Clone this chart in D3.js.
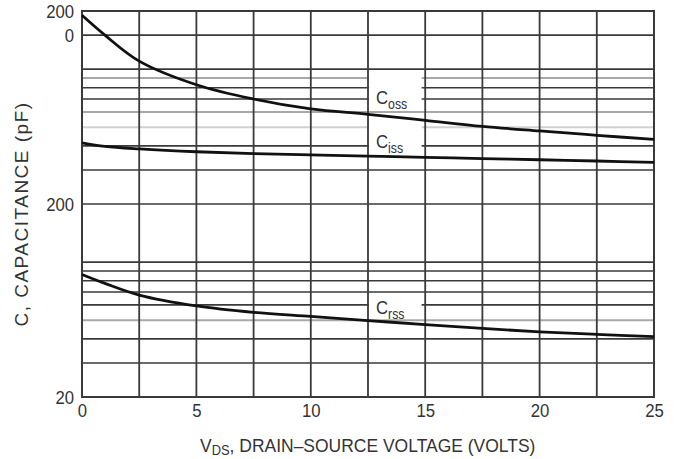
<!DOCTYPE html>
<html>
<head>
<meta charset="utf-8">
<script src="https://cdn.jsdelivr.net/npm/d3@7"></script>
<style>
  body { margin: 0; background: #fff; }
  text { font-family: "Liberation Sans Narrow", "Arial Narrow", "Liberation Sans", sans-serif; fill: #333; }
</style>
</head>
<body>
<script>
// Drain-source voltage (volts) where the curves were read
var vds = [0, 1, 2.5, 5, 7.5, 10, 12.5, 15, 17.5, 20, 22.5, 25];

// Capacitance values (pF)
var coss = [1900, 1500, 1100, 830, 700, 622, 583, 543, 505, 478, 454, 432];
var ciss = [415, 398, 386, 373, 365, 359, 354, 349, 344, 339, 334, 329];
var crss = [86.3, 77.6, 67.5, 59.3, 54.9, 52.3, 49.8, 47.4, 45.3, 43.5, 42.2, 41.1];

// Tick labels (as printed on the figure)
var xTicks = [0, 5, 10, 15, 20, 25];
var yTickValues = [2000, 1500, 200, 20];
var yTickText = ["200", "0", "200", "20"];

// Grid
var xGrid = [0, 2.5, 5, 7.5, 10, 12.5, 15, 17.5, 20, 22.5, 25];
var yGridDark = [30, 40, 60, 70, 80, 90, 100, 200, 300, 400, 700, 800, 1000, 1500];
var yGridGray = [50, 600, 900];
var yGridLight = [500];

// Curve labels: [main, subscript, vds, value of baseline, box top value, box bottom value]
var curveLabels = [
  ["C", "oss", 12.85, 660, 955, 613],
  ["C", "iss", 12.85, 390, 532, 368],
  ["C", "rss", 12.85, 54, 64.5, 50.7]
];

var width = 676;
var height = 459;
var margin = {top: 11, right: 22, bottom: 62, left: 82};
var narrow = 0.88;

var svg = d3.select("body")
  .append("svg")
  .attr("width", width)
  .attr("height", height);

var x = d3.scaleLinear()
  .domain([0, 25])
  .range([margin.left, width - margin.right]);

var y = d3.scaleLog()
  .domain([20, 2000])
  .range([height - margin.bottom, margin.top]);

// horizontal grid lines
function hLines(vals, color, w) {
  svg.append("g").selectAll("line")
    .data(vals)
    .enter()
    .append("line")
    .attr("x1", x(0))
    .attr("x2", x(25))
    .attr("y1", function(d) { return y(d); })
    .attr("y2", function(d) { return y(d); })
    .attr("stroke", color)
    .attr("stroke-width", w);
}
hLines(yGridLight, "#d0d0d0", 2);
hLines(yGridGray, "#a8a8a8", 2);
hLines(yGridDark, "#3a3a3a", 1.6);

// white boxes behind the curve labels
svg.append("g").selectAll("rect")
  .data(curveLabels)
  .enter()
  .append("rect")
  .attr("x", x(12.5) + 1)
  .attr("width", x(14.8) - x(12.5))
  .attr("y", function(d) { return y(d[4]); })
  .attr("height", function(d) { return y(d[5]) - y(d[4]); })
  .attr("fill", "#fff");

// vertical grid lines
svg.append("g").selectAll("line")
  .data(xGrid)
  .enter()
  .append("line")
  .attr("x1", function(d) { return x(d); })
  .attr("x2", function(d) { return x(d); })
  .attr("y1", y(20))
  .attr("y2", y(2000))
  .attr("stroke", "#3a3a3a")
  .attr("stroke-width", 1.8);

// frame
svg.append("rect")
  .attr("x", x(0))
  .attr("y", y(2000))
  .attr("width", x(25) - x(0))
  .attr("height", y(20) - y(2000))
  .attr("fill", "none")
  .attr("stroke", "#3a3a3a")
  .attr("stroke-width", 2);

// curves
var line = d3.line()
  .x(function(d) { return x(d[0]); })
  .y(function(d) { return y(d[1]); })
  .curve(d3.curveCatmullRom.alpha(0.5));

[coss, ciss, crss].forEach(function(series) {
  svg.append("path")
    .datum(vds.map(function(v, i) { return [v, series[i]]; }))
    .attr("d", line)
    .attr("fill", "none")
    .attr("stroke", "#111")
    .attr("stroke-width", 2.8);
});

// curve labels
curveLabels.forEach(function(d) {
  var t = svg.append("text")
    .attr("transform", "translate(" + x(d[2]) + "," + y(d[3]) + ") scale(" + narrow + ",1)")
    .attr("font-size", 19);
  t.append("tspan").text(d[0]);
  t.append("tspan").attr("dy", 5).attr("font-size", 14).text(d[1]);
});

// x axis labels
var xAxis = d3.axisBottom(x)
  .tickValues(xTicks)
  .tickSize(0)
  .tickPadding(7)
  .tickFormat(d3.format("d"));

var gx = svg.append("g")
  .attr("transform", "translate(0," + y(20) + ")")
  .call(xAxis);
gx.select(".domain").remove();
gx.selectAll("text")
  .attr("font-size", 19)
  .attr("fill", "#333")
  .attr("transform", "scale(" + narrow + ",1)")
  .style("font-family", null);

// y axis labels
var yAxis = d3.axisLeft(y)
  .tickValues(yTickValues)
  .tickSize(0)
  .tickPadding(9)
  .tickFormat(function(d, i) { return yTickText[i]; });

var gy = svg.append("g")
  .attr("transform", "translate(" + x(0) + ",0)")
  .call(yAxis);
gy.select(".domain").remove();
gy.selectAll("text")
  .attr("font-size", 19)
  .attr("fill", "#333")
  .attr("transform", "scale(" + narrow + ",1)")
  .style("font-family", null);

// axis titles
var xt = svg.append("text")
  .attr("transform", "translate(200,452) scale(0.92,1)")
  .attr("font-size", 19);
xt.append("tspan").text("V");
xt.append("tspan").attr("dy", 3).attr("font-size", 14).text("DS");
xt.append("tspan").attr("dy", -3).text(", DRAIN\u2013SOURCE VOLTAGE (VOLTS)");

svg.append("text")
  .attr("transform", "translate(28,214) rotate(-90)")
  .attr("text-anchor", "middle")
  .attr("font-size", 19)
  .attr("letter-spacing", 1.5)
  .text("C, CAPACITANCE (pF)");
</script>
</body>
</html>
